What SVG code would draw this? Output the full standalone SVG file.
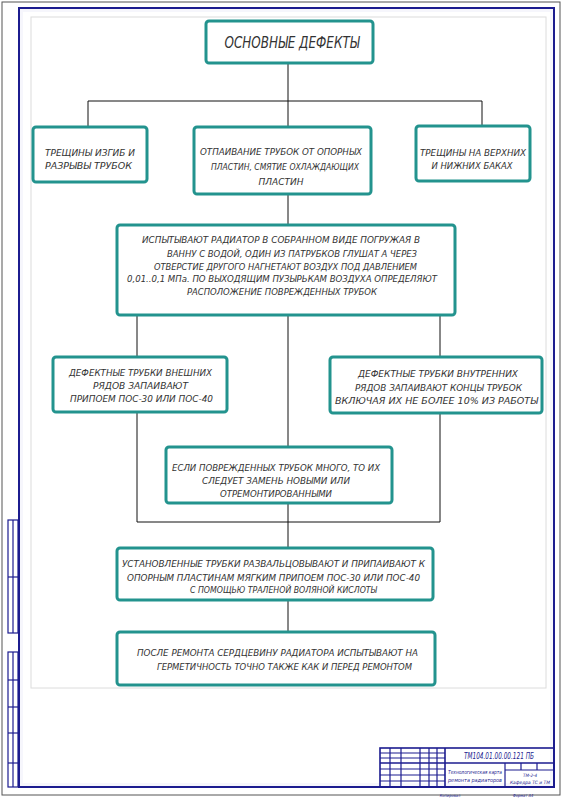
<svg xmlns="http://www.w3.org/2000/svg" width="563" height="800" viewBox="0 0 563 800">
<style>
.box{fill:#fff;stroke:#23938e;stroke-width:3;}
.t{font-family:"DejaVu Sans Condensed","DejaVu Sans","Liberation Sans",sans-serif;font-stretch:condensed;font-style:italic;font-size:9.5px;fill:#333;text-anchor:middle;}
.ttl{font-size:16px;}
.con{stroke:#111;stroke-width:1;fill:none;}
.fr{stroke:#1c1c8f;fill:none;}
.tb{font-family:"DejaVu Sans Condensed","DejaVu Sans",sans-serif;font-style:italic;fill:#1c1c8f;text-anchor:middle;}
</style>
<rect x="0" y="0" width="563" height="800" fill="#fff"/>
<rect x="2" y="2" width="558" height="793" fill="none" stroke="#555" stroke-width="1"/>
<rect x="19" y="8" width="535" height="779" fill="#f6f6fc" stroke="none"/>
<rect x="23" y="12" width="527" height="771" fill="#fff" stroke="none"/>
<rect x="31" y="17" width="515" height="671" fill="#fff" stroke="#dcdcdc" stroke-width="1"/>
<rect x="19" y="8" width="535" height="779" class="fr" stroke-width="2"/>
<g id="left-strips" class="fr" stroke-width="1.2">
<rect x="8" y="520" width="10" height="113"/>
<line x1="8" y1="577" x2="18" y2="577"/>
<line x1="13" y1="520" x2="13" y2="633"/>
<rect x="8" y="652" width="10" height="135"/>
<line x1="8" y1="680" x2="18" y2="680"/>
<line x1="8" y1="707" x2="18" y2="707"/>
<line x1="8" y1="733" x2="18" y2="733"/>
<line x1="8" y1="763" x2="18" y2="763"/>
<line x1="13" y1="652" x2="13" y2="787"/>
</g>
<g id="title-block">
<g class="fr" stroke-width="1.2">
<rect x="380" y="748" width="174" height="39" stroke-width="1.6"/>
<line x1="445" y1="748" x2="445" y2="787" stroke-width="1.6"/>
<line x1="445" y1="763" x2="554" y2="763" stroke-width="1.6"/>
<line x1="505" y1="763" x2="505" y2="787"/>
<line x1="505" y1="770" x2="554" y2="770"/>
<line x1="521" y1="763" x2="521" y2="770"/>
<line x1="537" y1="763" x2="537" y2="770"/>
<line x1="390" y1="748" x2="390" y2="787"/>
<line x1="401" y1="748" x2="401" y2="787"/>
<line x1="420" y1="748" x2="420" y2="787"/>
<line x1="429" y1="748" x2="429" y2="787"/>
<line x1="437" y1="748" x2="437" y2="787"/>
<line x1="380" y1="753" x2="445" y2="753"/>
<line x1="380" y1="758" x2="445" y2="758"/>
<line x1="380" y1="763" x2="445" y2="763" stroke-width="1.6"/>
<line x1="380" y1="769" x2="445" y2="769"/>
<line x1="380" y1="775" x2="445" y2="775"/>
<line x1="380" y1="781" x2="445" y2="781"/>
</g>
<text class="tb" x="499" y="759" font-size="8" textLength="70" lengthAdjust="spacingAndGlyphs">ТМ104.01.00.00.121 ПБ</text>
<text class="tb" x="475" y="774" font-size="5.5" textLength="54" lengthAdjust="spacingAndGlyphs">Технологическая карта</text>
<text class="tb" x="475" y="782" font-size="5.5" textLength="54" lengthAdjust="spacingAndGlyphs">ремонта радиаторов</text>
<text class="tb" x="530" y="777" font-size="4.5">ТМ-2-4</text>
<text class="tb" x="530" y="784" font-size="4.5" textLength="40" lengthAdjust="spacingAndGlyphs">Кафедра ТС и ТМ</text>
<text class="tb" x="450" y="797" font-size="4" fill="#777">Копировал</text>
<text class="tb" x="523" y="797" font-size="4" fill="#777">Формат А4</text>
</g>
<g id="connectors" class="con">
<line x1="288" y1="63" x2="288" y2="101"/>
<polyline points="88,127 88,101 482,101 482,126"/>
<line x1="288" y1="101" x2="288" y2="127"/>
<line x1="288" y1="194" x2="288" y2="225"/>
<line x1="137" y1="315" x2="137" y2="357"/>
<line x1="440" y1="315" x2="440" y2="357"/>
<line x1="288" y1="315" x2="288" y2="447"/>
<polyline points="137,412 137,522 440,522 440,412"/>
<line x1="288" y1="503" x2="288" y2="548"/>
<line x1="288" y1="600" x2="288" y2="632"/>
</g>
<g id="n-title">
<rect class="box" x="206" y="21" width="167" height="42" rx="3"/>
<text class="t ttl" x="292" y="48" textLength="135" lengthAdjust="spacingAndGlyphs">ОСНОВНЫЕ ДЕФЕКТЫ</text>
</g>
<g id="n-left">
<rect class="box" x="33" y="127" width="114" height="55" rx="3"/>
<text class="t" x="90" y="155.5" textLength="90" lengthAdjust="spacingAndGlyphs">ТРЕЩИНЫ ИЗГИБ И</text>
<text class="t" x="88.5" y="168.5" textLength="87" lengthAdjust="spacingAndGlyphs">РАЗРЫВЫ ТРУБОК</text>
</g>
<g id="n-middle">
<rect class="box" x="194" y="127" width="177" height="67" rx="3"/>
<text class="t" x="281" y="154.5" textLength="162" lengthAdjust="spacingAndGlyphs">ОТПАИВАНИЕ ТРУБОК ОТ ОПОРНЫХ</text>
<text class="t" x="285" y="169.5" textLength="148" lengthAdjust="spacingAndGlyphs">ПЛАСТИН, СМЯТИЕ ОХЛАЖДАЮЩИХ</text>
<text class="t" x="281" y="184.5" textLength="45" lengthAdjust="spacingAndGlyphs">ПЛАСТИН</text>
</g>
<g id="n-right">
<rect class="box" x="416" y="126" width="114" height="55" rx="3"/>
<text class="t" x="473" y="155.5" textLength="106" lengthAdjust="spacingAndGlyphs">ТРЕЩИНЫ НА ВЕРХНИХ</text>
<text class="t" x="472" y="168.5" textLength="81" lengthAdjust="spacingAndGlyphs">И НИЖНИХ БАКАХ</text>
</g>
<g id="n-test">
<rect class="box" x="117" y="225" width="338" height="90" rx="3"/>
<text class="t" x="281" y="242.5" textLength="278" lengthAdjust="spacingAndGlyphs">ИСПЫТЫВАЮТ РАДИАТОР В СОБРАННОМ ВИДЕ ПОГРУЖАЯ В</text>
<text class="t" x="292" y="256.5" textLength="250" lengthAdjust="spacingAndGlyphs">ВАННУ С ВОДОЙ, ОДИН ИЗ ПАТРУБКОВ ГЛУШАТ А ЧЕРЕЗ</text>
<text class="t" x="285.5" y="269.5" textLength="263" lengthAdjust="spacingAndGlyphs">ОТВЕРСТИЕ ДРУГОГО НАГНЕТАЮТ ВОЗДУХ ПОД ДАВЛЕНИЕМ</text>
<text class="t" x="282" y="281.5" textLength="310" lengthAdjust="spacingAndGlyphs">0,01..0,1 МПа. ПО ВЫХОДЯЩИМ ПУЗЫРЬКАМ ВОЗДУХА ОПРЕДЕЛЯЮТ</text>
<text class="t" x="282" y="294.5" textLength="190" lengthAdjust="spacingAndGlyphs">РАСПОЛОЖЕНИЕ ПОВРЕЖДЕННЫХ ТРУБОК</text>
</g>
<g id="n-outer">
<rect class="box" x="53" y="357" width="174" height="55" rx="3"/>
<text class="t" x="140.5" y="375.5" textLength="143" lengthAdjust="spacingAndGlyphs">ДЕФЕКТНЫЕ ТРУБКИ ВНЕШНИХ</text>
<text class="t" x="140.5" y="388.5" textLength="95" lengthAdjust="spacingAndGlyphs">РЯДОВ ЗАПАИВАЮТ</text>
<text class="t" x="141.5" y="401.5" textLength="143" lengthAdjust="spacingAndGlyphs">ПРИПОЕМ ПОС-30 ИЛИ ПОС-40</text>
</g>
<g id="n-inner">
<rect class="box" x="330" y="357" width="212" height="56" rx="3"/>
<text class="t" x="438" y="376.5" textLength="160" lengthAdjust="spacingAndGlyphs">ДЕФЕКТНЫЕ ТРУБКИ ВНУТРЕННИХ</text>
<text class="t" x="438.5" y="390.5" textLength="167" lengthAdjust="spacingAndGlyphs">РЯДОВ ЗАПАИВАЮТ КОНЦЫ ТРУБОК</text>
<text class="t" x="436.5" y="403.5" textLength="203" lengthAdjust="spacingAndGlyphs">ВКЛЮЧАЯ ИХ НЕ БОЛЕЕ 10% ИЗ РАБОТЫ</text>
</g>
<g id="n-many">
<rect class="box" x="166" y="447" width="226" height="56" rx="3"/>
<text class="t" x="276" y="470.5" textLength="208" lengthAdjust="spacingAndGlyphs">ЕСЛИ ПОВРЕЖДЕННЫХ ТРУБОК МНОГО, ТО ИХ</text>
<text class="t" x="276" y="483.5" textLength="148" lengthAdjust="spacingAndGlyphs">СЛЕДУЕТ ЗАМЕНЬ НОВЫМИ ИЛИ</text>
<text class="t" x="276" y="496.5" textLength="112" lengthAdjust="spacingAndGlyphs">ОТРЕМОНТИРОВАННЫМИ</text>
</g>
<g id="n-install">
<rect class="box" x="117" y="548" width="316" height="52" rx="3"/>
<text class="t" x="273.5" y="566.5" textLength="303" lengthAdjust="spacingAndGlyphs">УСТАНОВЛЕННЫЕ ТРУБКИ РАЗВАЛЬЦОВЫВАЮТ И ПРИПАИВАЮТ К</text>
<text class="t" x="273.5" y="580.5" textLength="293" lengthAdjust="spacingAndGlyphs">ОПОРНЫМ ПЛАСТИНАМ МЯГКИМ ПРИПОЕМ ПОС-30 ИЛИ ПОС-40</text>
<text class="t" x="283.5" y="592.5" textLength="187" lengthAdjust="spacingAndGlyphs">С ПОМОЩЬЮ ТРАЛЕНОЙ ВОЛЯНОЙ КИСЛОТЫ</text>
</g>
<g id="n-after">
<rect class="box" x="117" y="632" width="318" height="53" rx="3"/>
<text class="t" x="277.5" y="655.5" textLength="281" lengthAdjust="spacingAndGlyphs">ПОСЛЕ РЕМОНТА СЕРДЦЕВИНУ РАДИАТОРА ИСПЫТЫВАЮТ НА</text>
<text class="t" x="284.5" y="669.5" textLength="255" lengthAdjust="spacingAndGlyphs">ГЕРМЕТИЧНОСТЬ ТОЧНО ТАКЖЕ КАК И ПЕРЕД РЕМОНТОМ</text>
</g>
</svg>
